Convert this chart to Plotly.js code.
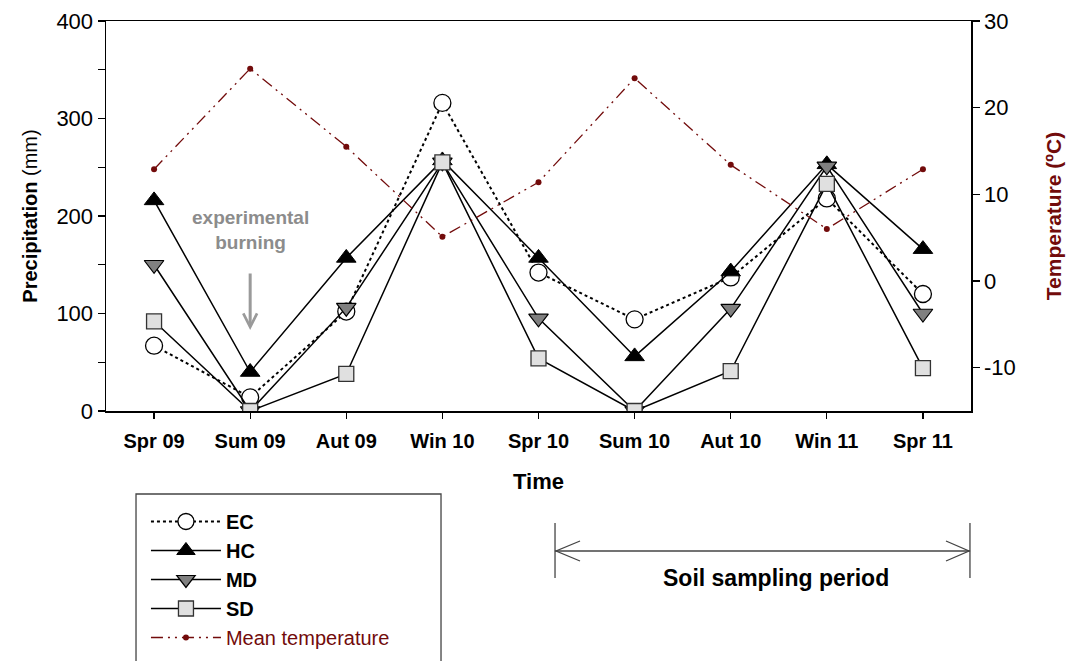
<!DOCTYPE html>
<html>
<head>
<meta charset="utf-8">
<script src="https://cdn.plot.ly/plotly-3.0.1.min.js"></script>
<style>html,body{margin:0;padding:0;background:#fff;}#chart{width:1066px;height:661px;}</style>
</head>
<body>
<div id="chart"></div>
<script>
const seasons = ["Spr 09","Sum 09","Aut 09","Win 10","Spr 10","Sum 10","Aut 10","Win 11","Spr 11"];
const ecPrecip = [67, 14, 102, 316, 142, 94, 137, 218, 120];
const hcPrecip = [216, 40, 157, 257, 157, 56, 143, 253, 166];
const mdPrecip = [150, 0, 106, 255, 95, 0, 105, 251, 100];
const sdPrecip = [92, 0, 38, 255, 54, 0, 41, 233, 44];
const meanTemp = [12.9, 24.5, 15.5, 5.1, 11.4, 23.4, 13.4, 6.0, 12.9];
const yTickVals = [0, 100, 200, 300, 400];
const y2TickVals = [-10, 0, 10, 20, 30];
const y2TickText = ["-10", "0", "10", "20", "30"];

const FONT = "Arial, 'Liberation Sans', sans-serif";
const idx = seasons.map((s, i) => i);
const tempColor = "#720b0b";

const traces = [
  {x: idx, y: ecPrecip, name: "<b>EC</b>", legendgroup: "a", mode: "lines+markers",
   line: {color: "#000", width: 2, dash: "dot"},
   marker: {symbol: "circle", size: 17, color: "#fff", line: {color: "#000", width: 1.3}}},
  {x: idx, y: hcPrecip, name: "<b>HC</b>", legendgroup: "b", mode: "lines+markers",
   line: {color: "#000", width: 1.5},
   marker: {symbol: "triangle-up", size: 17, color: "#000", line: {color: "#000", width: 1}}},
  {x: idx, y: mdPrecip, name: "<b>MD</b>", legendgroup: "c", mode: "lines+markers",
   line: {color: "#000", width: 1.5},
   marker: {symbol: "triangle-down", size: 17, color: "#808080", line: {color: "#000", width: 1.2}}},
  {x: idx, y: sdPrecip, name: "<b>SD</b>", legendgroup: "d", mode: "lines+markers",
   line: {color: "#000", width: 1.5},
   marker: {symbol: "square", size: 15, color: "#e0e0e0", line: {color: "#333", width: 1.3}}},
  {x: idx, y: meanTemp, name: "<span style='color:" + tempColor + "'>Mean temperature</span>", legendgroup: "e",
   yaxis: "y2", mode: "lines+markers",
   line: {color: tempColor, width: 1.3, dash: "12px,5px,2px,5px,2px,5px"},
   marker: {symbol: "circle", size: 6, color: tempColor}}
];

const layout = {
  width: 1066, height: 661,
  margin: {l: 106, r: 95, t: 21, b: 250, autoexpand: false},
  paper_bgcolor: "#fff", plot_bgcolor: "#fff",
  font: {family: FONT, color: "#000"},
  showlegend: true,
  legend: {
    x: 0.0462, y: -0.2333, xanchor: "left", yanchor: "top",
    borderwidth: 0, bgcolor: "rgba(0,0,0,0)",
    font: {family: FONT, size: 20, color: "#000"},
    itemwidth: 70, tracegroupgap: 0, traceorder: "normal"
  },
  xaxis: {
    range: [-0.5, 8.5], tickmode: "array", tickvals: idx, ticktext: seasons,
    showgrid: false, zeroline: false, showline: true, linecolor: "#000", linewidth: 1.5, mirror: true,
    ticks: "outside", ticklen: 6, tickwidth: 1.3, tickcolor: "#000", ticklabelstandoff: 5,
    tickfont: {family: FONT, size: 20, color: "#000", weight: "bold"},
    title: {text: "<b>Time</b>", font: {family: FONT, size: 22, color: "#000"}, standoff: 23}
  },
  yaxis: {
    range: [0, 400], tickmode: "array", tickvals: yTickVals,
    showgrid: false, zeroline: false, showline: true, linecolor: "#000", linewidth: 1.5,
    ticks: "outside", ticklen: 7, tickwidth: 1.3, tickcolor: "#000",
    minor: {dtick: 50, ticks: "outside", ticklen: 7, tickwidth: 1.3, tickcolor: "#000", showgrid: false},
    tickfont: {family: FONT, size: 22, color: "#000"},
    title: {text: "<b>Precipitation</b> (mm)", font: {family: FONT, size: 20, color: "#000"}, standoff: 13}
  },
  yaxis2: {
    overlaying: "y", side: "right", range: [-15, 30], tickmode: "array", tickvals: y2TickVals, ticktext: y2TickText,
    showgrid: false, zeroline: false, showline: true, linecolor: "#000", linewidth: 1.5,
    ticks: "outside", ticklen: 7, tickwidth: 1.3, tickcolor: "#000",
    tickfont: {family: FONT, size: 22, color: "#000"},
    title: {text: "<b>Temperature (ºC)</b>", font: {family: FONT, size: 21, color: tempColor}, standoff: 31}
  },
  annotations: [
    {x: 1, y: 186, xref: "x", yref: "y", text: "<b>experimental<br>burning</b>", showarrow: false,
     font: {family: FONT, size: 19, color: "#8c8c8c"}},
    {x: 1, y: 83, xref: "x", yref: "y", text: "", showarrow: true, ax: 0, ay: -58,
     arrowhead: 5, arrowsize: 0.9, arrowwidth: 3, arrowcolor: "#9a9a9a"},
    {x: 0.7746, y: -0.4282, xref: "paper", yref: "paper", xanchor: "center", yanchor: "middle",
     text: "<b>Soil sampling period</b>", showarrow: false,
     font: {family: FONT, size: 23, color: "#000"}}
  ],
  shapes: [
    {type: "rect", xref: "paper", yref: "paper", x0: 0.0347, x1: 0.3873, y0: -0.2128, y1: -0.6436, line: {color: "#444", width: 1.3}},
    {type: "line", xref: "paper", yref: "paper", x0: 0.5191, x1: 0.9988, y0: -0.3590, y1: -0.3590, line: {color: "#444", width: 1.3}},
    {type: "line", xref: "paper", yref: "paper", x0: 0.5191, x1: 0.5191, y0: -0.2872, y1: -0.4282, line: {color: "#444", width: 1.3}},
    {type: "line", xref: "paper", yref: "paper", x0: 0.9988, x1: 0.9988, y0: -0.2872, y1: -0.4282, line: {color: "#444", width: 1.3}},
    {type: "path", xref: "paper", yref: "paper", path: "M0.5480,-0.3333 L0.5203,-0.3590 L0.5480,-0.3846", line: {color: "#444", width: 1.3}},
    {type: "path", xref: "paper", yref: "paper", path: "M0.9711,-0.3333 L0.9977,-0.3590 L0.9711,-0.3846", line: {color: "#444", width: 1.3}}
  ]
};

Plotly.newPlot("chart", traces, layout, {displayModeBar: false, staticPlot: true});
</script>
</body>
</html>
